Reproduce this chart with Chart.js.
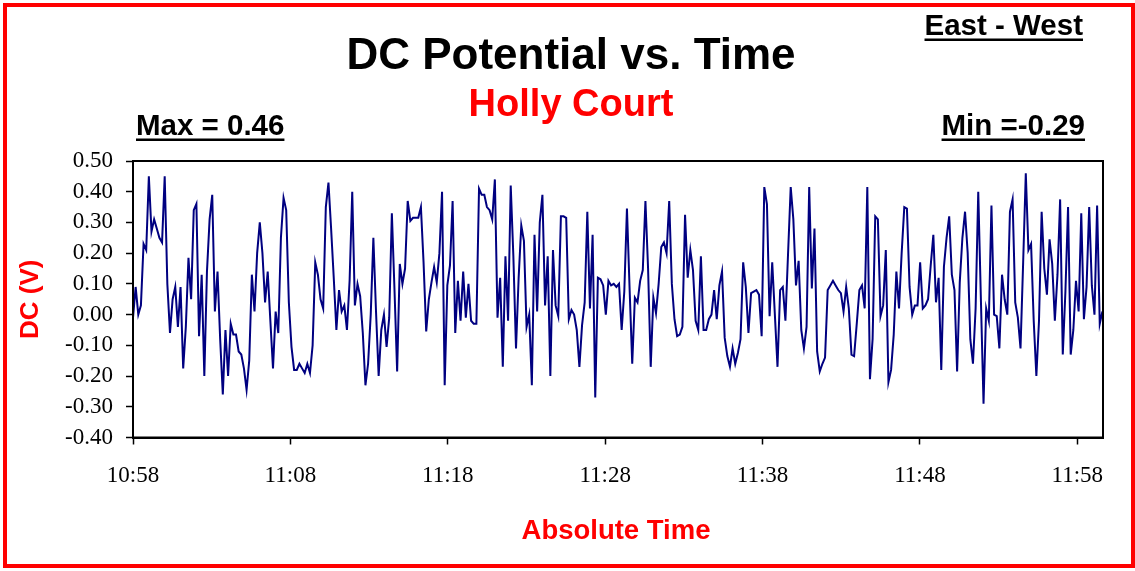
<!DOCTYPE html>
<html>
<head>
<meta charset="utf-8">
<script src="https://cdn.jsdelivr.net/npm/chart.js@4/dist/chart.umd.min.js"></script>
<style>
  html, body { margin: 0; padding: 0; background: #fff; }
  #wrap { position: relative; width: 1135px; height: 571px; overflow: hidden; }
  #dc-chart { position: absolute; left: 0; top: 0; }
  #frame { position: absolute; left: 3px; top: 3px; width: 1132px; height: 565px;
           box-sizing: border-box; border: 4px solid #ff0000; pointer-events: none; }
</style>
</head>
<body>
<div id="wrap">
  <canvas id="dc-chart" width="1135" height="571"></canvas>
  <div id="frame"></div>
</div>
<script>
// --- data (volts, one sample every ~10 s from 10:58) ---
const DC_VALUES = [
  -0.01, 0.09, 0.00, 0.03, 0.23, 0.21, 0.45, 0.27, 0.31, 0.28, 0.25, 0.235, 0.45, 0.10, -0.06, 0.05, 0.09, -0.04, 0.09, -0.175,
  -0.04, 0.185, 0.05, 0.34, 0.36, -0.07, 0.13, -0.20, 0.14, 0.31, 0.39, 0.01, 0.14, -0.08, -0.26, -0.05, -0.20, -0.03, -0.065,
  -0.065, -0.12, -0.13, -0.175, -0.245, -0.15, 0.13, 0.01, 0.20, 0.30, 0.20, 0.04, 0.14, -0.02, -0.175, 0.01, -0.06, 0.25, 0.38, 0.34,
  0.04, -0.105, -0.18, -0.18, -0.16, -0.175, -0.19, -0.16, -0.19, -0.10, 0.17, 0.13, 0.05, 0.02, 0.35, 0.43, 0.28, 0.12, -0.05, 0.08,
  0.01, 0.03, -0.05, 0.11, 0.40, 0.03, 0.10, 0.06, -0.06, -0.23, -0.16, 0.00, 0.25, 0.01, -0.20, -0.05, 0.00, -0.105, -0.01, 0.33,
  0.08, -0.185, 0.165, 0.10, 0.15, 0.37, 0.305, 0.315, 0.315, 0.315, 0.35, 0.17, -0.055, 0.05, 0.105, 0.155, 0.105, 0.20, 0.40,
  -0.23, 0.095, 0.16, 0.37, -0.06, 0.11, -0.02, 0.14, -0.01, 0.10, -0.02, -0.03, -0.03, 0.41, 0.39, 0.39, 0.35, 0.34, 0.31, 0.44,
  -0.01, 0.12, -0.17, 0.19, -0.02, 0.42, 0.19, -0.11, 0.12, 0.29, 0.24, -0.04, 0.00, -0.23, 0.26, 0.01, 0.30, 0.39, 0.03, 0.19,
  -0.20, 0.21, 0.03, -0.005, 0.32, 0.32, 0.315, -0.015, 0.015, 0.00, -0.05, -0.17, -0.035, 0.04, 0.335, 0.02, 0.26, -0.27, 0.12, 0.115,
  0.095, 0.00, 0.11, 0.095, 0.10, 0.09, 0.10, -0.05, 0.075, 0.345, 0.085, -0.16, 0.055, 0.04, 0.11, 0.145, 0.37, 0.15, -0.17, 0.055,
  0.005, 0.10, 0.22, 0.235, 0.20, 0.37, 0.10, -0.015, -0.07, -0.065, -0.04, 0.325, 0.12, 0.21, 0.145, -0.02, -0.05, 0.19, -0.05, -0.05,
  -0.015, 0.00, 0.08, -0.015, 0.095, 0.14, -0.075, -0.135, -0.17, -0.11, -0.16, -0.125, -0.08, 0.17, 0.09, -0.06, 0.07, 0.075, 0.08, 0.065,
  -0.07, 0.415, 0.36, -0.005, 0.17, 0.00, -0.17, 0.08, 0.09, -0.02, 0.20, 0.415, 0.31, 0.095, 0.175, -0.05, -0.11, -0.04, 0.415, 0.085,
  0.28, -0.12, -0.185, -0.16, -0.14, 0.08, 0.095, 0.11, 0.095, 0.08, 0.07, 0.01, 0.09, 0.02, -0.13, -0.135, -0.03, 0.08, 0.095, 0.02,
  0.415, -0.21, -0.08, 0.32, 0.31, -0.005, 0.03, 0.21, -0.22, -0.18, -0.065, 0.14, 0.02, 0.20, 0.35, 0.345, 0.09, 0.00, 0.03, 0.03,
  0.17, 0.02, 0.03, 0.05, 0.16, 0.26, 0.04, 0.12, -0.18, 0.155, 0.25, 0.32, 0.13, 0.08, -0.185, 0.105, 0.25, 0.335, 0.20,
  -0.08, -0.16, 0.02, 0.40, 0.05, -0.29, 0.02, -0.02, 0.355, 0.00, -0.005, -0.11, 0.13, 0.05, 0.00, 0.335, 0.375, 0.04, -0.01, -0.11,
  0.17, 0.46, 0.21, 0.23, -0.02, -0.20, -0.02, 0.335, 0.15, 0.065, 0.245, 0.165, -0.02, 0.13, 0.375, -0.13, 0.075, 0.35, -0.13, -0.05,
  0.11, 0.01, 0.33, -0.015, 0.09, 0.35, 0.095, 0.00, 0.355, -0.03, 0.01
];
const SAMPLE_SEC = 10.07;          // logger interval
const X_MAX_SEC = 3698;            // end of the time axis, seconds after 10:58
const TIME_TICK_SEC = [0, 600, 1200, 1800, 2400, 3000, 3600];
const TIME_TICK_LABELS = ['10:58', '11:08', '11:18', '11:28', '11:38', '11:48', '11:58'];
const DC_TICKS = [0.5, 0.4, 0.3, 0.2, 0.1, 0, -0.1, -0.2, -0.3, -0.4];
const DC_TICK_LABELS = ['0.50', '0.40', '0.30', '0.20', '0.10', '0.00', '-0.10', '-0.20', '-0.30', '-0.40'];

const points = DC_VALUES.map((v, i) => ({ x: i * SAMPLE_SEC, y: v }));

const TICK_FONT = { family: '"Liberation Serif", "Times New Roman", serif', size: 23 };
const SANS = '"Liberation Sans", Arial, sans-serif';

function drawText(ctx, txt, x, y, font, color, align, underline) {
  ctx.save();
  ctx.font = font;
  ctx.fillStyle = color;
  ctx.textAlign = align;
  ctx.textBaseline = 'alphabetic';
  ctx.fillText(txt, x, y);
  if (underline) {
    const w = ctx.measureText(txt).width;
    const x0 = align === 'center' ? x - w / 2 : align === 'right' ? x - w : x;
    ctx.fillRect(x0, y + 3.5, w, 2.5);
  }
  ctx.restore();
}

// titles, labels and the plot box
const decorations = {
  id: 'decorations',
  afterDraw(chart) {
    const { ctx, chartArea: a } = chart;
    ctx.save();
    ctx.strokeStyle = '#000';
    ctx.lineWidth = 2;
    ctx.strokeRect(a.left, a.top, a.right - a.left, a.bottom - a.top);
    ctx.restore();

    drawText(ctx, 'DC Potential vs. Time', 571, 69, `bold 44px ${SANS}`, '#000', 'center', false);
    drawText(ctx, 'Holly Court', 571, 116, `bold 38px ${SANS}`, '#ff0000', 'center', false);
    drawText(ctx, 'East - West', 1083, 35, `bold 29.5px ${SANS}`, '#000', 'right', true);
    drawText(ctx, 'Max = 0.46', 136, 135, `bold 29.5px ${SANS}`, '#000', 'left', true);
    drawText(ctx, 'Min =-0.29', 1085, 135, `bold 29.5px ${SANS}`, '#000', 'right', true);
    drawText(ctx, 'Absolute Time', 616, 539, `bold 27.5px ${SANS}`, '#ff0000', 'center', false);

    ctx.save();
    ctx.translate(38, (a.top + a.bottom) / 2);
    ctx.rotate(-Math.PI / 2);
    drawText(ctx, 'DC (V)', 0, 0, `bold 26px ${SANS}`, '#ff0000', 'center', false);
    ctx.restore();
  }
};

new Chart(document.getElementById('dc-chart'), {
  type: 'line',
  data: {
    datasets: [{
      data: points,
      borderColor: '#000080',
      borderWidth: 2,
      pointRadius: 0,
      tension: 0,
      fill: false,
    }],
  },
  options: {
    responsive: false,
    animation: false,
    devicePixelRatio: 1,
    layout: { padding: { top: 161, right: 32, left: 0, bottom: 0 } },
    plugins: { legend: { display: false }, tooltip: { enabled: false } },
    scales: {
      x: {
        type: 'linear',
        min: 0,
        max: X_MAX_SEC,
        afterFit: s => { s.height = 133.5; },
        afterBuildTicks: s => { s.ticks = TIME_TICK_SEC.map(v => ({ value: v })); },
        ticks: {
          callback: (v, i) => TIME_TICK_LABELS[i],
          font: TICK_FONT, color: '#000', padding: 18, maxRotation: 0, autoSkip: false,
        },
        grid: { drawOnChartArea: false, tickLength: 7, tickColor: '#000', tickWidth: 1.5 },
        border: { color: '#000', width: 2 },
      },
      y: {
        min: -0.4,
        max: 0.5,
        afterFit: s => { s.width = 133; },
        afterBuildTicks: s => { s.ticks = DC_TICKS.map(v => ({ value: v })); },
        ticks: {
          callback: (v, i) => DC_TICK_LABELS[i],
          font: TICK_FONT, color: '#000', padding: 13, autoSkip: false,
        },
        grid: { drawOnChartArea: false, tickLength: 7, tickColor: '#000', tickWidth: 1.5 },
        border: { color: '#000', width: 2 },
      },
    },
  },
  plugins: [decorations],
});
</script>
</body>
</html>
